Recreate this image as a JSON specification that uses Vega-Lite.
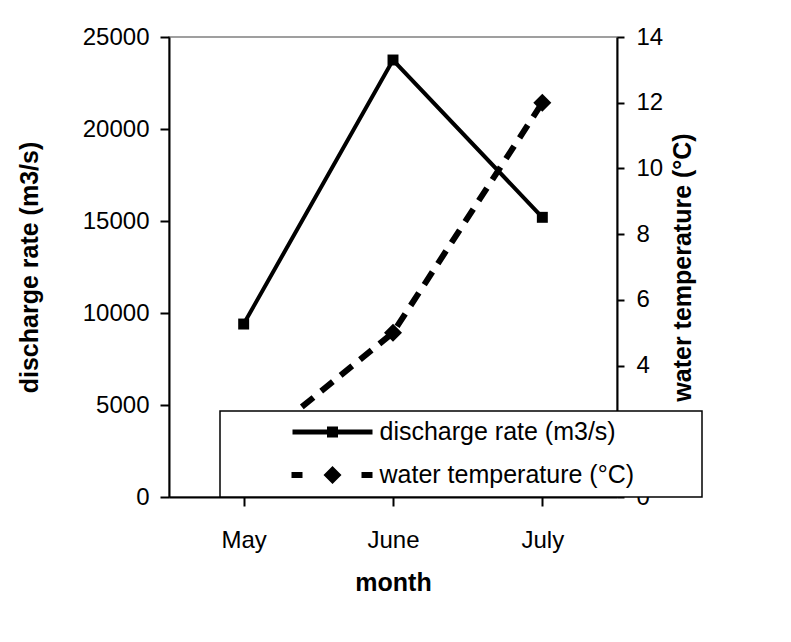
{
  "$schema": "https://vega.github.io/schema/vega-lite/v6.json",
  "width": 448,
  "height": 460,
  "autosize": {"type": "none"},
  "padding": {"left": 169, "top": 37, "right": 174, "bottom": 145},
  "background": "white",
  "config": {
    "view": {"stroke": "#808080", "strokeWidth": 1.5},
    "font": "Liberation Sans",
    "axis": {
      "domainColor": "black",
      "domainWidth": 2,
      "tickColor": "black",
      "tickWidth": 2,
      "labelColor": "black",
      "labelFont": "Liberation Sans",
      "labelFontSize": 24,
      "titleColor": "black",
      "titleFont": "Liberation Sans",
      "titleFontSize": 25,
      "titleFontWeight": "bold",
      "grid": false
    },
    "legend": {"strokeWidth": 1.5}
  },
  "data": {
    "values": [
      {"month": "May", "series": "discharge rate (m3/s)", "value": 9400},
      {"month": "June", "series": "discharge rate (m3/s)", "value": 23750},
      {"month": "July", "series": "discharge rate (m3/s)", "value": 15200},
      {"month": "May", "series": "water temperature (°C)", "value": 1.3},
      {"month": "June", "series": "water temperature (°C)", "value": 5},
      {"month": "July", "series": "water temperature (°C)", "value": 12}
    ]
  },
  "encoding": {
    "x": {
      "field": "month",
      "type": "nominal",
      "sort": ["May", "June", "July"],
      "scale": {"paddingInner": 0, "paddingOuter": 0},
      "axis": {
        "title": "month",
        "labelAngle": 0,
        "bandPosition": 0,
        "tickSize": 9,
        "labelPadding": 22,
        "titlePadding": 18
      }
    }
  },
  "layer": [
    {
      "encoding": {
        "y": {
          "field": "value",
          "type": "quantitative",
          "scale": {"domain": [0, 25000]},
          "axis": {
            "title": "discharge rate (m3/s)",
            "orient": "left",
            "values": [0, 5000, 10000, 15000, 20000, 25000],
            "format": "d",
            "tickSize": 9,
            "labelPadding": 11,
            "titlePadding": 40
          }
        }
      },
      "layer": [
        {
          "transform": [{"filter": "datum.series === 'discharge rate (m3/s)'"}],
          "mark": {"type": "line", "color": "black", "strokeWidth": 4}
        },
        {
          "transform": [{"filter": "datum.series === 'discharge rate (m3/s)'"}],
          "mark": {"type": "point", "shape": "square", "filled": true, "color": "black", "size": 120, "opacity": 1}
        },
        {
          "mark": {"type": "point", "filled": true, "color": "black", "opacity": 0},
          "encoding": {
            "shape": {
              "field": "series",
              "type": "nominal",
              "scale": {
                "domain": ["discharge rate (m3/s)", "water temperature (°C)"],
                "range": [
                  "M5.15,-0.25H13.15V0.25H5.15Z M8.6,-0.55H9.7V0.55H8.6Z",
                  "M5.05,-0.3H6.15V0.3H5.05Z M9.15,-0.9L10.05,0L9.15,0.9L8.25,0Z M12.05,-0.3H13.15V0.3H12.05Z"
                ]
              },
              "legend": {
                "orient": "none",
                "legendX": 51,
                "legendY": 374,
                "title": " ",
                "titleOrient": "right",
                "titlePadding": 59,
                "fillColor": "white",
                "strokeColor": "black",
                "padding": 8.5,
                "rowPadding": 17,
                "labelFont": "Liberation Sans",
                "labelFontSize": 25,
                "labelColor": "black",
                "labelOffset": 126,
                "labelLimit": 400,
                "symbolSize": 400,
                "symbolStrokeWidth": 0,
                "symbolFillColor": "black",
                "symbolOpacity": 1
              }
            }
          }
        }
      ]
    },
    {
      "transform": [{"filter": "datum.series === 'water temperature (°C)'"}],
      "encoding": {
        "y": {
          "field": "value",
          "type": "quantitative",
          "scale": {"domain": [0, 14]},
          "axis": {
            "title": "water temperature (°C)",
            "orient": "right",
            "values": [0, 2, 4, 6, 8, 10, 12, 14],
            "tickSize": 7,
            "labelPadding": 12,
            "titleAngle": 270,
            "titleBaseline": "top",
            "titlePadding": 8
          }
        }
      },
      "layer": [
        {
          "mark": {"type": "line", "color": "black", "strokeWidth": 6, "strokeDash": [15, 10]}
        },
        {
          "mark": {"type": "point", "shape": "diamond", "filled": true, "color": "black", "size": 324, "opacity": 1}
        }
      ]
    }
  ],
  "resolve": {"scale": {"y": "independent"}}
}
